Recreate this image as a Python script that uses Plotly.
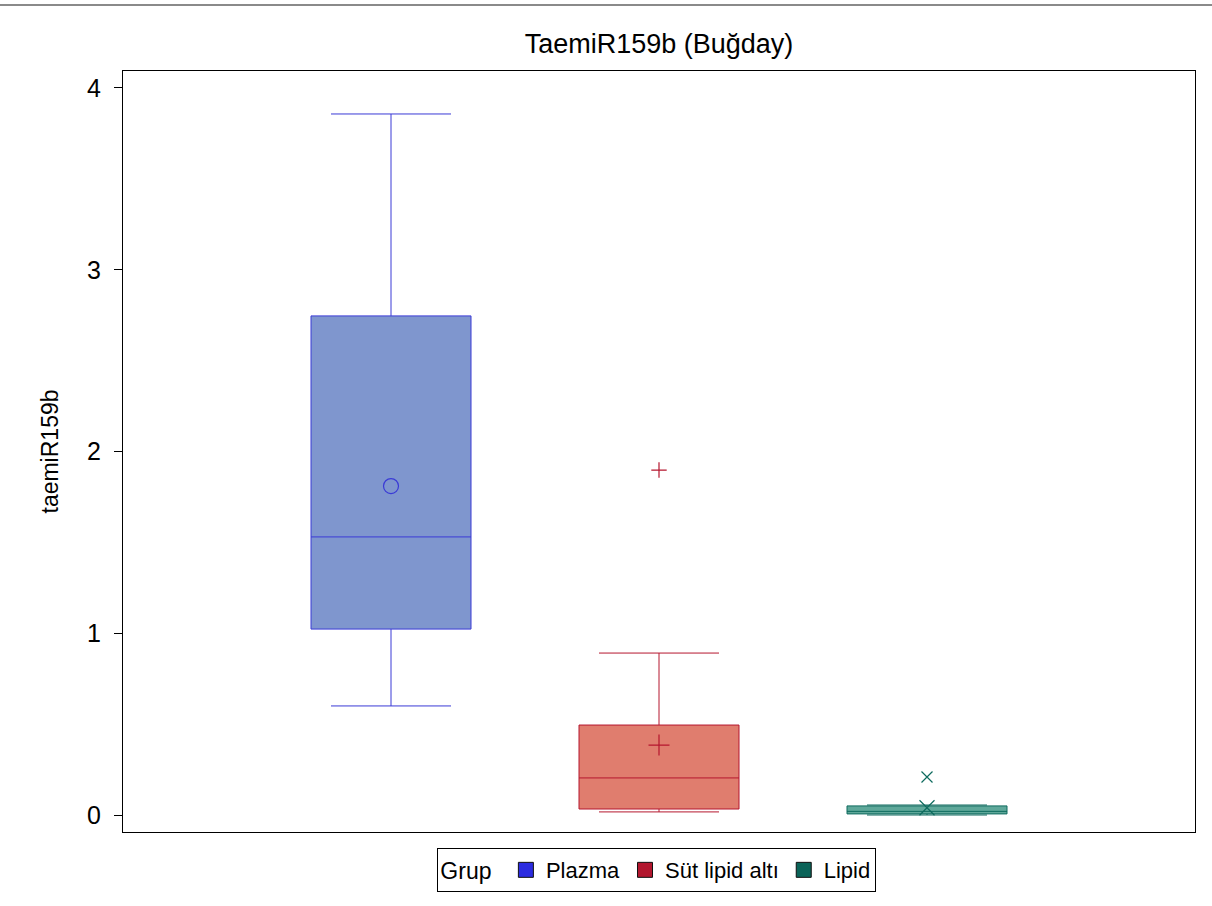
import plotly.graph_objects as go

# Group names and box statistics (taemiR159b)
groups = ["Plazma", "Süt lipid altı", "Lipid"]
positions = [1, 2, 3]
q1 = [1.023, 0.033, 0.006]
median = [1.530, 0.204, 0.020]
q3 = [2.746, 0.495, 0.050]
lower_fence = [0.600, 0.017, 0.000]
upper_fence = [3.857, 0.891, 0.055]
means = [1.810, 0.385, 0.040]

# Outliers per group
outlier_x = [[], [2], [3]]
outlier_y = [[], [1.898], [0.209]]

line_colors = ["#3a3ad6", "#b5162e", "#0e6b5e"]
fill_colors = ["rgba(127,150,206,1)", "rgba(224,125,110,1)", "rgba(95,168,154,1)"]
legend_colors = ["#2b2be0", "#b2162e", "#0a6358"]
mean_symbols = ["circle-open", "cross-thin-open", "x-thin-open"]
outlier_symbols = ["circle-open", "cross-thin-open", "x-thin-open"]

font_family = "Liberation Sans, Arial, sans-serif"

fig = go.Figure()

for i, g in enumerate(groups):
    fig.add_trace(go.Box(
        x=[positions[i]],
        q1=[q1[i]], median=[median[i]], q3=[q3[i]],
        lowerfence=[lower_fence[i]], upperfence=[upper_fence[i]],
        name=g, width=0.597, whiskerwidth=0.75,
        fillcolor=fill_colors[i],
        line=dict(color=line_colors[i], width=1),
        boxpoints=False, showlegend=False, hoverinfo="skip",
    ))
    fig.add_trace(go.Scatter(
        x=[positions[i]], y=[means[i]], mode="markers",
        marker=dict(symbol=mean_symbols[i], size=15, color=line_colors[i],
                    line=dict(color=line_colors[i], width=1.2)),
        showlegend=False, hoverinfo="skip",
    ))
    if outlier_y[i]:
        fig.add_trace(go.Scatter(
            x=outlier_x[i], y=outlier_y[i], mode="markers",
            marker=dict(symbol=outlier_symbols[i], size=11, color=line_colors[i],
                        line=dict(color=line_colors[i], width=1.2)),
            showlegend=False, hoverinfo="skip",
        ))

# Legend entries drawn as filled squares
for i, g in enumerate(groups):
    fig.add_trace(go.Scatter(
        x=[None], y=[None], mode="markers", name=g,
        marker=dict(symbol="square", size=15, color=legend_colors[i],
                    line=dict(color="#111111", width=1)),
    ))

fig.update_layout(
    width=1212, height=906,
    paper_bgcolor="white", plot_bgcolor="white",
    margin=dict(l=123, r=17, t=71, b=74),
    font=dict(family=font_family, size=21, color="black"),
    title=dict(text="TaemiR159b (Buğday)", x=0.5, xref="paper", xanchor="center",
               y=0.952, yanchor="middle", font=dict(size=27)),
    xaxis=dict(range=[0, 4], showticklabels=False, ticks="", showgrid=False,
               zeroline=False, showline=True, linecolor="black", linewidth=1, mirror=True),
    yaxis=dict(range=[-0.0935, 4.0935], tickvals=[0, 1, 2, 3, 4], ticks="outside",
               ticklen=8, tickcolor="black", ticklabelstandoff=8,
               showgrid=False, zeroline=False,
               showline=True, linecolor="black", linewidth=1, mirror=True,
               title=dict(text="taemiR159b", standoff=22, font=dict(size=23)),
               tickfont=dict(size=25)),
    showlegend=True,
    legend=dict(orientation="h", x=0.498, xanchor="center", y=-0.05, yanchor="middle",
                bordercolor="black", borderwidth=1, bgcolor="white",
                title=dict(text="Grup ", font=dict(size=23)),
                font=dict(size=22), itemwidth=30, tracegroupgap=0),
    shapes=[dict(type="line", xref="paper", yref="paper",
                 x0=-123 / 1072, x1=1 + 17 / 1072, y0=1 + 66 / 761, y1=1 + 66 / 761,
                 line=dict(color="#8a8a8a", width=2))],
)

fig.write_html("out.html")
